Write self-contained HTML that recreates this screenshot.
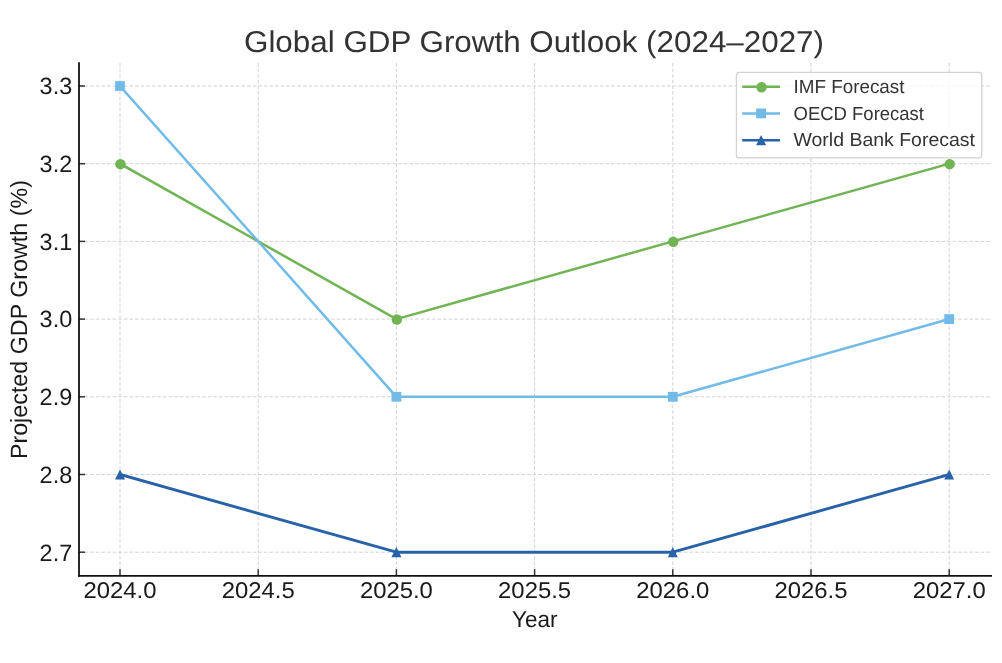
<!DOCTYPE html>
<html><head><meta charset="utf-8"><style>
html,body{margin:0;padding:0;background:#fff;}
svg{display:block;will-change:transform;}
text{font-family:"Liberation Sans",sans-serif;text-rendering:geometricPrecision;}
.g{stroke:#d3d3d3;stroke-width:1;stroke-dasharray:3.7 1.9;}
.t{stroke:#333;stroke-width:1.5;}
.s{stroke:#111;stroke-width:1.8;}
.xt{font-size:22.8px;fill:#1a1a1a;}
.yt{font-size:23.6px;fill:#1a1a1a;}
.lab{font-size:22px;fill:#1a1a1a;}
.title{font-size:30px;fill:#333;}
.leg{font-size:19px;fill:#333;}
</style></head><body>
<svg width="1002" height="663" viewBox="0 0 1002 663">
<line x1="120.00" y1="63.0" x2="120.00" y2="575.8" class="g"/>
<line x1="258.20" y1="63.0" x2="258.20" y2="575.8" class="g"/>
<line x1="396.40" y1="63.0" x2="396.40" y2="575.8" class="g"/>
<line x1="534.60" y1="63.0" x2="534.60" y2="575.8" class="g"/>
<line x1="672.80" y1="63.0" x2="672.80" y2="575.8" class="g"/>
<line x1="811.00" y1="63.0" x2="811.00" y2="575.8" class="g"/>
<line x1="949.20" y1="63.0" x2="949.20" y2="575.8" class="g"/>
<line x1="79.0" y1="552.20" x2="992" y2="552.20" class="g"/>
<line x1="79.0" y1="474.50" x2="992" y2="474.50" class="g"/>
<line x1="79.0" y1="396.80" x2="992" y2="396.80" class="g"/>
<line x1="79.0" y1="319.10" x2="992" y2="319.10" class="g"/>
<line x1="79.0" y1="241.40" x2="992" y2="241.40" class="g"/>
<line x1="79.0" y1="163.70" x2="992" y2="163.70" class="g"/>
<line x1="79.0" y1="86.00" x2="992" y2="86.00" class="g"/>
<line x1="120.00" y1="575.8" x2="120.00" y2="569.1999999999999" class="t"/>
<line x1="258.20" y1="575.8" x2="258.20" y2="569.1999999999999" class="t"/>
<line x1="396.40" y1="575.8" x2="396.40" y2="569.1999999999999" class="t"/>
<line x1="534.60" y1="575.8" x2="534.60" y2="569.1999999999999" class="t"/>
<line x1="672.80" y1="575.8" x2="672.80" y2="569.1999999999999" class="t"/>
<line x1="811.00" y1="575.8" x2="811.00" y2="569.1999999999999" class="t"/>
<line x1="949.20" y1="575.8" x2="949.20" y2="569.1999999999999" class="t"/>
<line x1="79.0" y1="552.20" x2="85.0" y2="552.20" class="t"/>
<line x1="79.0" y1="474.50" x2="85.0" y2="474.50" class="t"/>
<line x1="79.0" y1="396.80" x2="85.0" y2="396.80" class="t"/>
<line x1="79.0" y1="319.10" x2="85.0" y2="319.10" class="t"/>
<line x1="79.0" y1="241.40" x2="85.0" y2="241.40" class="t"/>
<line x1="79.0" y1="163.70" x2="85.0" y2="163.70" class="t"/>
<line x1="79.0" y1="86.00" x2="85.0" y2="86.00" class="t"/>
<line x1="79.0" y1="62.2" x2="79.0" y2="576.6999999999999" class="s"/>
<line x1="78.1" y1="575.8" x2="992" y2="575.8" class="s"/>
<polyline points="120.00,163.70 396.40,319.10 672.80,241.40 949.20,163.70" fill="none" stroke="#70b454" stroke-width="2.5" stroke-linejoin="round" stroke-linecap="square"/>
<circle cx="120.45" cy="164.15" r="5.25" fill="#70b454"/>
<circle cx="396.85" cy="319.55" r="5.25" fill="#70b454"/>
<circle cx="673.25" cy="241.85" r="5.25" fill="#70b454"/>
<circle cx="949.65" cy="164.15" r="5.25" fill="#70b454"/>
<polyline points="120.00,86.00 396.40,396.80 672.80,396.80 949.20,319.10" fill="none" stroke="#72bbe8" stroke-width="2.5" stroke-linejoin="round" stroke-linecap="square"/>
<rect x="115.10" y="81.10" width="9.8" height="9.8" fill="#72bbe8"/>
<rect x="391.50" y="391.90" width="9.8" height="9.8" fill="#72bbe8"/>
<rect x="667.90" y="391.90" width="9.8" height="9.8" fill="#72bbe8"/>
<rect x="944.30" y="314.20" width="9.8" height="9.8" fill="#72bbe8"/>
<polyline points="120.00,474.50 396.40,552.20 672.80,552.20 949.20,474.50" fill="none" stroke="#2862a9" stroke-width="2.9" stroke-linejoin="round" stroke-linecap="square"/>
<polygon points="120.00,469.40 125.00,479.60 115.00,479.60" fill="#2862a9"/>
<polygon points="396.40,547.10 401.40,557.30 391.40,557.30" fill="#2862a9"/>
<polygon points="672.80,547.10 677.80,557.30 667.80,557.30" fill="#2862a9"/>
<polygon points="949.20,469.40 954.20,479.60 944.20,479.60" fill="#2862a9"/>
<text x="120.00" y="598" class="xt" text-anchor="middle" textLength="73" lengthAdjust="spacingAndGlyphs">2024.0</text>
<text x="258.20" y="598" class="xt" text-anchor="middle" textLength="73" lengthAdjust="spacingAndGlyphs">2024.5</text>
<text x="396.40" y="598" class="xt" text-anchor="middle" textLength="73" lengthAdjust="spacingAndGlyphs">2025.0</text>
<text x="534.60" y="598" class="xt" text-anchor="middle" textLength="73" lengthAdjust="spacingAndGlyphs">2025.5</text>
<text x="672.80" y="598" class="xt" text-anchor="middle" textLength="73" lengthAdjust="spacingAndGlyphs">2026.0</text>
<text x="811.00" y="598" class="xt" text-anchor="middle" textLength="73" lengthAdjust="spacingAndGlyphs">2026.5</text>
<text x="949.20" y="598" class="xt" text-anchor="middle" textLength="73" lengthAdjust="spacingAndGlyphs">2027.0</text>
<text x="72.2" y="560.55" class="yt" text-anchor="end" textLength="32.6" lengthAdjust="spacingAndGlyphs">2.7</text>
<text x="72.2" y="482.85" class="yt" text-anchor="end" textLength="32.6" lengthAdjust="spacingAndGlyphs">2.8</text>
<text x="72.2" y="405.15" class="yt" text-anchor="end" textLength="32.6" lengthAdjust="spacingAndGlyphs">2.9</text>
<text x="72.2" y="327.45" class="yt" text-anchor="end" textLength="32.6" lengthAdjust="spacingAndGlyphs">3.0</text>
<text x="72.2" y="249.75" class="yt" text-anchor="end" textLength="32.6" lengthAdjust="spacingAndGlyphs">3.1</text>
<text x="72.2" y="172.05" class="yt" text-anchor="end" textLength="32.6" lengthAdjust="spacingAndGlyphs">3.2</text>
<text x="72.2" y="94.35" class="yt" text-anchor="end" textLength="32.6" lengthAdjust="spacingAndGlyphs">3.3</text>
<text x="534.8" y="627" class="lab" text-anchor="middle" style="font-size:23px" textLength="45.5" lengthAdjust="spacingAndGlyphs">Year</text>
<text transform="translate(27.1,319.6) rotate(-90)" x="0" y="0" class="lab" style="font-size:23.5px" text-anchor="middle" textLength="279" lengthAdjust="spacingAndGlyphs">Projected GDP Growth (%)</text>
<text x="534" y="52" class="title" text-anchor="middle" textLength="580" lengthAdjust="spacingAndGlyphs">Global GDP Growth Outlook (2024–2027)</text>
<rect x="736.4" y="72.4" width="245.4" height="85.5" rx="3" ry="3" fill="#fff" fill-opacity="0.8" stroke="#d3d3d3" stroke-width="1.3"/>
<line x1="742.2" y1="86.8" x2="780" y2="86.8" stroke="#70b454" stroke-width="2.5"/>
<circle cx="761.55" cy="87.25" r="5.25" fill="#70b454"/>
<text x="793.5" y="93.00" class="leg" textLength="111" lengthAdjust="spacingAndGlyphs">IMF Forecast</text>
<line x1="742.2" y1="113.4" x2="780" y2="113.4" stroke="#72bbe8" stroke-width="2.5"/>
<rect x="756.20" y="108.50" width="9.8" height="9.8" fill="#72bbe8"/>
<text x="793.5" y="119.60" class="leg" textLength="130.5" lengthAdjust="spacingAndGlyphs">OECD Forecast</text>
<line x1="742.2" y1="140.2" x2="780" y2="140.2" stroke="#2862a9" stroke-width="2.5"/>
<polygon points="761.10,135.10 766.10,145.30 756.10,145.30" fill="#2862a9"/>
<text x="793.5" y="146.40" class="leg" textLength="181.5" lengthAdjust="spacingAndGlyphs">World Bank Forecast</text>
</svg>
</body></html>
